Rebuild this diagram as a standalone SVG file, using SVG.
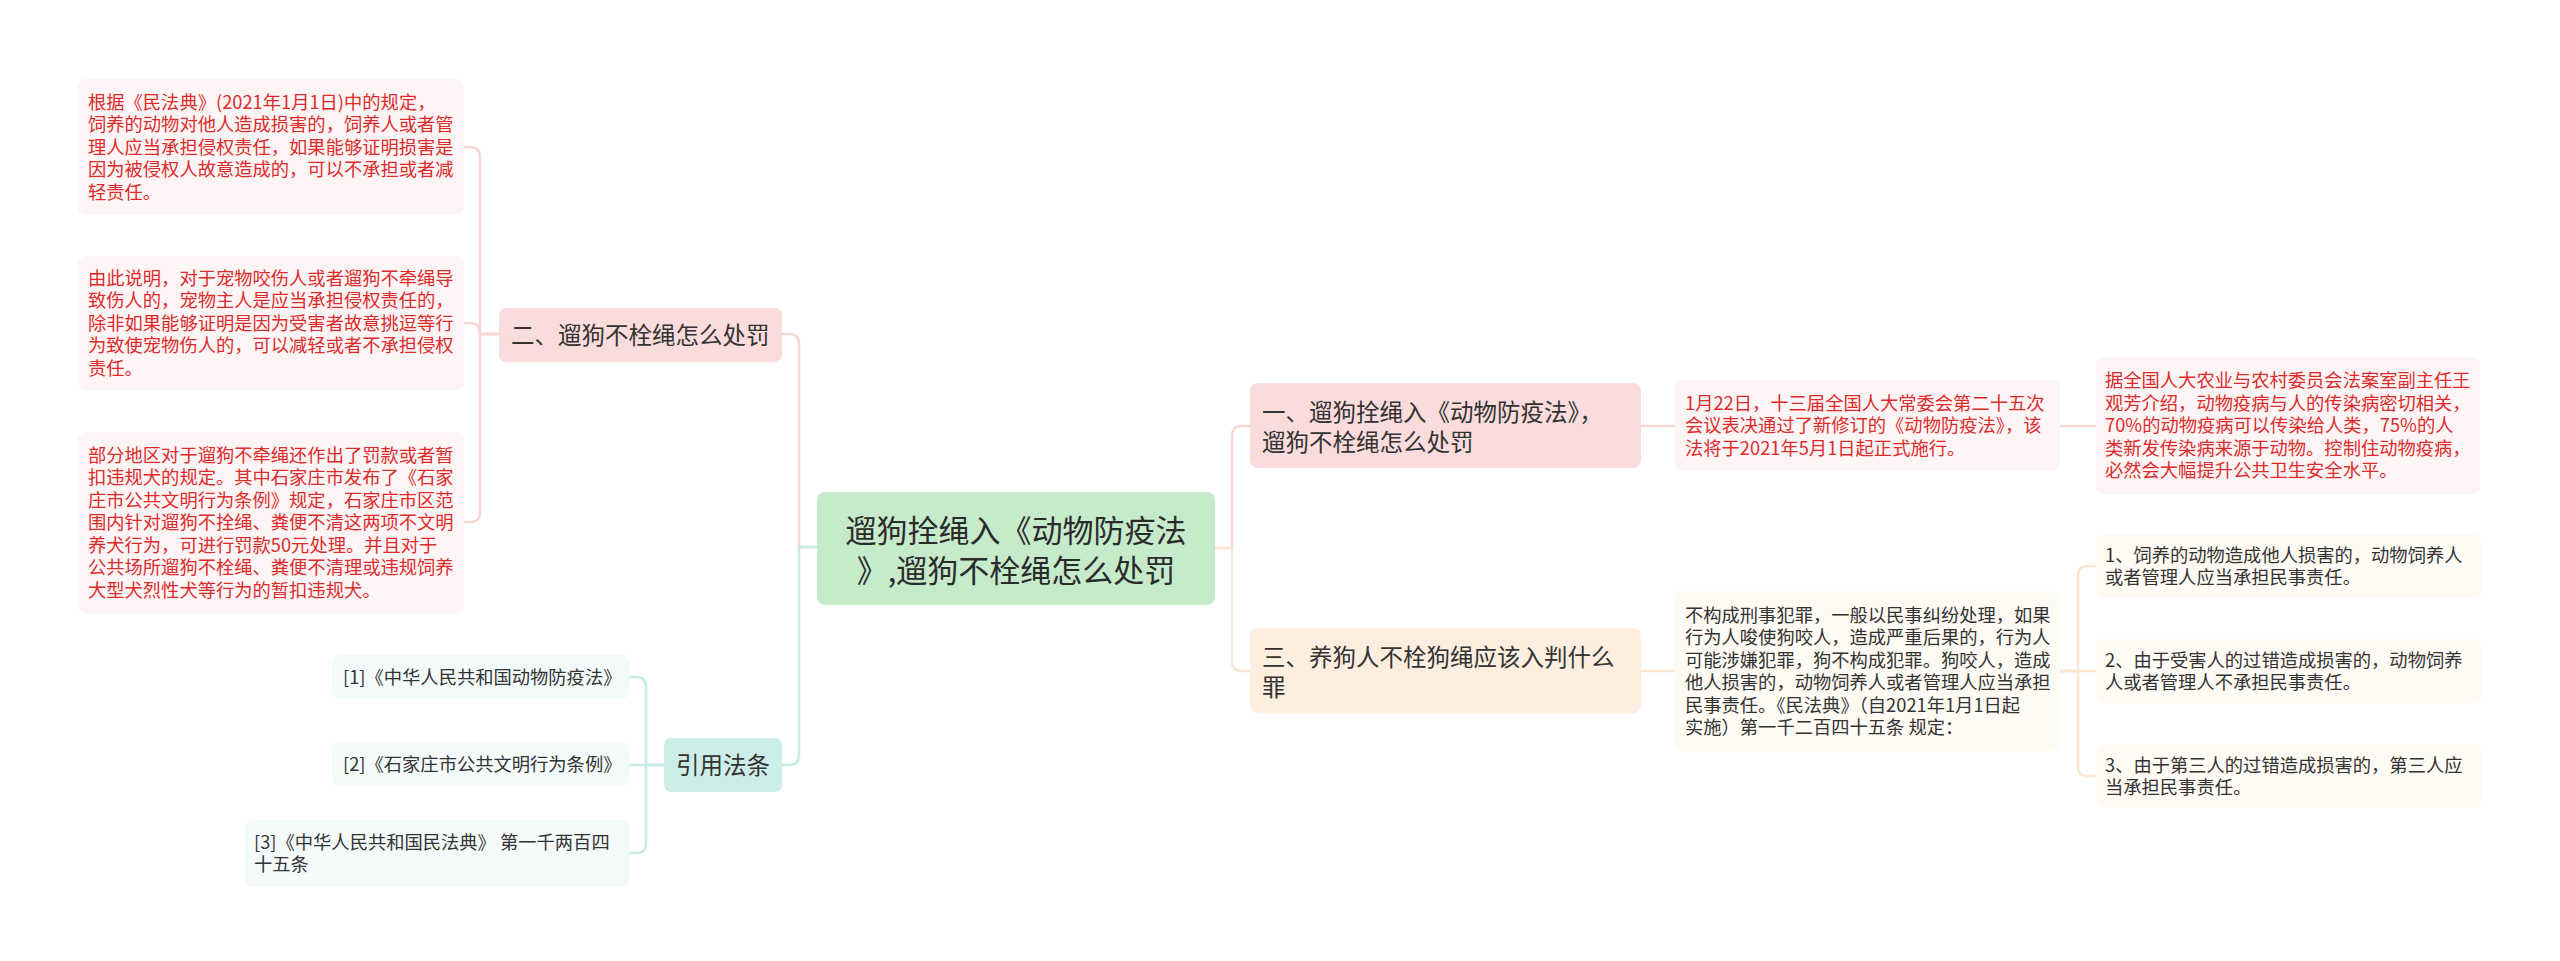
<svg xmlns="http://www.w3.org/2000/svg" width="2560" height="961" viewBox="0 0 2560 961">
<style>
text{font-family:"Noto Sans CJK SC","Noto Sans",sans-serif;}
.s{font-size:18.3px;}
.red{fill:#dd2b2b;}
.dk{fill:#333333;}
.m{font-size:23.5px;fill:#333333;}
.c{font-size:31px;fill:#2b2b2b;}
.lp{fill:#fdf5f5;}
.lo{fill:#fefaf4;}
.lt{fill:#f4fafa;}
.np{fill:#fadcdc;}
.no{fill:#fdeee0;}
.nt{fill:#cdeee8;}
.ng{fill:#c6ebcb;}
.cp{fill:none;stroke:#f7d6d6;stroke-width:2.5;}
.co{fill:none;stroke:#fbe6d2;stroke-width:2.5;}
.ct{fill:none;stroke:#c8ebe5;stroke-width:2.5;}
</style>
<rect width="2560" height="961" fill="#ffffff"/>
<g id="connectors">
<path class="cp" d="M817,547 H799 V344 Q799,334 789,334 H782"/>
<path class="ct" d="M817,547 H799 V755 Q799,765 789,765 H782"/>
<path class="cp" d="M499,334 H480 V157 Q480,147 470,147 H464"/>
<path class="cp" d="M499,334 H480 V333 Q480,323 470,323 H464"/>
<path class="cp" d="M499,334 H480 V512 Q480,522 470,522 H464"/>
<path class="ct" d="M664,765 H646 V687 Q646,677 636,677 H629"/>
<path class="ct" d="M664,765 H629"/>
<path class="ct" d="M664,765 H646 V843 Q646,853 636,853 H629"/>
<path class="cp" d="M1215,548 H1232 V436 Q1232,426 1242,426 H1250"/>
<path class="co" d="M1215,548 H1232 V661 Q1232,671 1242,671 H1250"/>
<path class="cp" d="M1641,426 H1675"/>
<path class="cp" d="M2060,426 H2096"/>
<path class="co" d="M1641,671 H1675"/>
<path class="co" d="M2060,671 H2078 V576 Q2078,566 2088,566 H2096"/>
<path class="co" d="M2060,671 H2096"/>
<path class="co" d="M2060,671 H2078 V766 Q2078,776 2088,776 H2096"/>
</g>
<g id="root">
<rect class="ng" x="817" y="492" width="398" height="113" rx="8"/>
<text class="c" text-anchor="middle"><tspan x="1016" y="541.5">遛狗拴绳入《动物防疫法</tspan><tspan x="1016" y="581.5">》,遛狗不栓绳怎么处罚</tspan></text>
</g>
<g id="n2">
<rect class="np" x="499" y="308" width="283" height="54" rx="7"/>
<text class="m" x="511" y="343.5">二、遛狗不栓绳怎么处罚</text>
</g>
<g id="n2a">
<rect class="lp" x="78" y="79" width="386" height="136" rx="8"/>
<text class="s red"><tspan x="88" y="108.8">根据《民法典》(2021年1月1日)中的规定，</tspan><tspan x="88" y="131.3">饲养的动物对他人造成损害的，饲养人或者管</tspan><tspan x="88" y="153.8">理人应当承担侵权责任，如果能够证明损害是</tspan><tspan x="88" y="176.3">因为被侵权人故意造成的，可以不承担或者减</tspan><tspan x="88" y="198.8">轻责任。</tspan></text>
</g>
<g id="n2b">
<rect class="lp" x="78" y="256" width="386" height="134" rx="8"/>
<text class="s red"><tspan x="88" y="284.8">由此说明，对于宠物咬伤人或者遛狗不牵绳导</tspan><tspan x="88" y="307.3">致伤人的，宠物主人是应当承担侵权责任的，</tspan><tspan x="88" y="329.8">除非如果能够证明是因为受害者故意挑逗等行</tspan><tspan x="88" y="352.3">为致使宠物伤人的，可以减轻或者不承担侵权</tspan><tspan x="88" y="374.8">责任。</tspan></text>
</g>
<g id="n2c">
<rect class="lp" x="78" y="432" width="386" height="181" rx="8"/>
<text class="s red"><tspan x="88" y="461.8">部分地区对于遛狗不牵绳还作出了罚款或者暂</tspan><tspan x="88" y="484.3">扣违规犬的规定。其中石家庄市发布了《石家</tspan><tspan x="88" y="506.8">庄市公共文明行为条例》规定，石家庄市区范</tspan><tspan x="88" y="529.3">围内针对遛狗不拴绳、粪便不清这两项不文明</tspan><tspan x="88" y="551.8">养犬行为，可进行罚款50元处理。并且对于</tspan><tspan x="88" y="574.3">公共场所遛狗不栓绳、粪便不清理或违规饲养</tspan><tspan x="88" y="596.8">大型犬烈性犬等行为的暂扣违规犬。</tspan></text>
</g>
<g id="refs">
<rect class="nt" x="664" y="738" width="118" height="54" rx="7"/>
<text class="m" x="723" y="773.5" text-anchor="middle">引用法条</text>
</g>
<g id="ref1">
<rect class="lt" x="332" y="655" width="297" height="44" rx="8"/>
<text class="s dk" x="343" y="683.8">[1]《中华人民共和国动物防疫法》</text>
</g>
<g id="ref2">
<rect class="lt" x="332" y="742" width="297" height="44" rx="8"/>
<text class="s dk" x="343" y="770.8">[2]《石家庄市公共文明行为条例》</text>
</g>
<g id="ref3">
<rect class="lt" x="245" y="820" width="384" height="67" rx="8"/>
<text class="s dk"><tspan x="254" y="848.5">[3]《中华人民共和国民法典》 第一千两百四</tspan><tspan x="254" y="871">十五条</tspan></text>
</g>
<g id="n1">
<rect class="np" x="1250" y="383" width="391" height="85" rx="8"/>
<text class="m"><tspan x="1262" y="420.5">一、遛狗拴绳入《动物防疫法》，</tspan><tspan x="1262" y="450.5">遛狗不栓绳怎么处罚</tspan></text>
</g>
<g id="n1a">
<rect class="lp" x="1675" y="380" width="385" height="91" rx="8"/>
<text class="s red"><tspan x="1685" y="409.8">1月22日，十三届全国人大常委会第二十五次</tspan><tspan x="1685" y="432.3">会议表决通过了新修订的《动物防疫法》，该</tspan><tspan x="1685" y="454.8">法将于2021年5月1日起正式施行。</tspan></text>
</g>
<g id="n1b">
<rect class="lp" x="2096" y="357" width="384" height="137" rx="8"/>
<text class="s red"><tspan x="2105" y="387.3">据全国人大农业与农村委员会法案室副主任王</tspan><tspan x="2105" y="409.8">观芳介绍，动物疫病与人的传染病密切相关，</tspan><tspan x="2105" y="432.3">70%的动物疫病可以传染给人类，75%的人</tspan><tspan x="2105" y="454.8">类新发传染病来源于动物。控制住动物疫病，</tspan><tspan x="2105" y="477.3">必然会大幅提升公共卫生安全水平。</tspan></text>
</g>
<g id="n3">
<rect class="no" x="1250" y="628" width="391" height="85" rx="8"/>
<text class="m"><tspan x="1262" y="665.5">三、养狗人不栓狗绳应该入判什么</tspan><tspan x="1262" y="695.5">罪</tspan></text>
</g>
<g id="n3a">
<rect class="lo" x="1675" y="591" width="385" height="160" rx="8"/>
<text class="s dk"><tspan x="1685" y="621.5">不构成刑事犯罪，一般以民事纠纷处理，如果</tspan><tspan x="1685" y="644">行为人唆使狗咬人，造成严重后果的，行为人</tspan><tspan x="1685" y="666.5">可能涉嫌犯罪，狗不构成犯罪。狗咬人，造成</tspan><tspan x="1685" y="689">他人损害的，动物饲养人或者管理人应当承担</tspan><tspan x="1685" y="711.5">民事责任。《民法典》（自2021年1月1日起</tspan><tspan x="1685" y="734">实施）第一千二百四十五条 规定：</tspan></text>
</g>
<g id="i1">
<rect class="lo" x="2096" y="534" width="385" height="64" rx="8"/>
<text class="s dk"><tspan x="2105" y="561.5">1、饲养的动物造成他人损害的，动物饲养人</tspan><tspan x="2105" y="584">或者管理人应当承担民事责任。</tspan></text>
</g>
<g id="i2">
<rect class="lo" x="2096" y="639" width="385" height="64" rx="8"/>
<text class="s dk"><tspan x="2105" y="666.5">2、由于受害人的过错造成损害的，动物饲养</tspan><tspan x="2105" y="689">人或者管理人不承担民事责任。</tspan></text>
</g>
<g id="i3">
<rect class="lo" x="2096" y="744" width="385" height="64" rx="8"/>
<text class="s dk"><tspan x="2105" y="771.5">3、由于第三人的过错造成损害的，第三人应</tspan><tspan x="2105" y="794">当承担民事责任。</tspan></text>
</g>
</svg>
